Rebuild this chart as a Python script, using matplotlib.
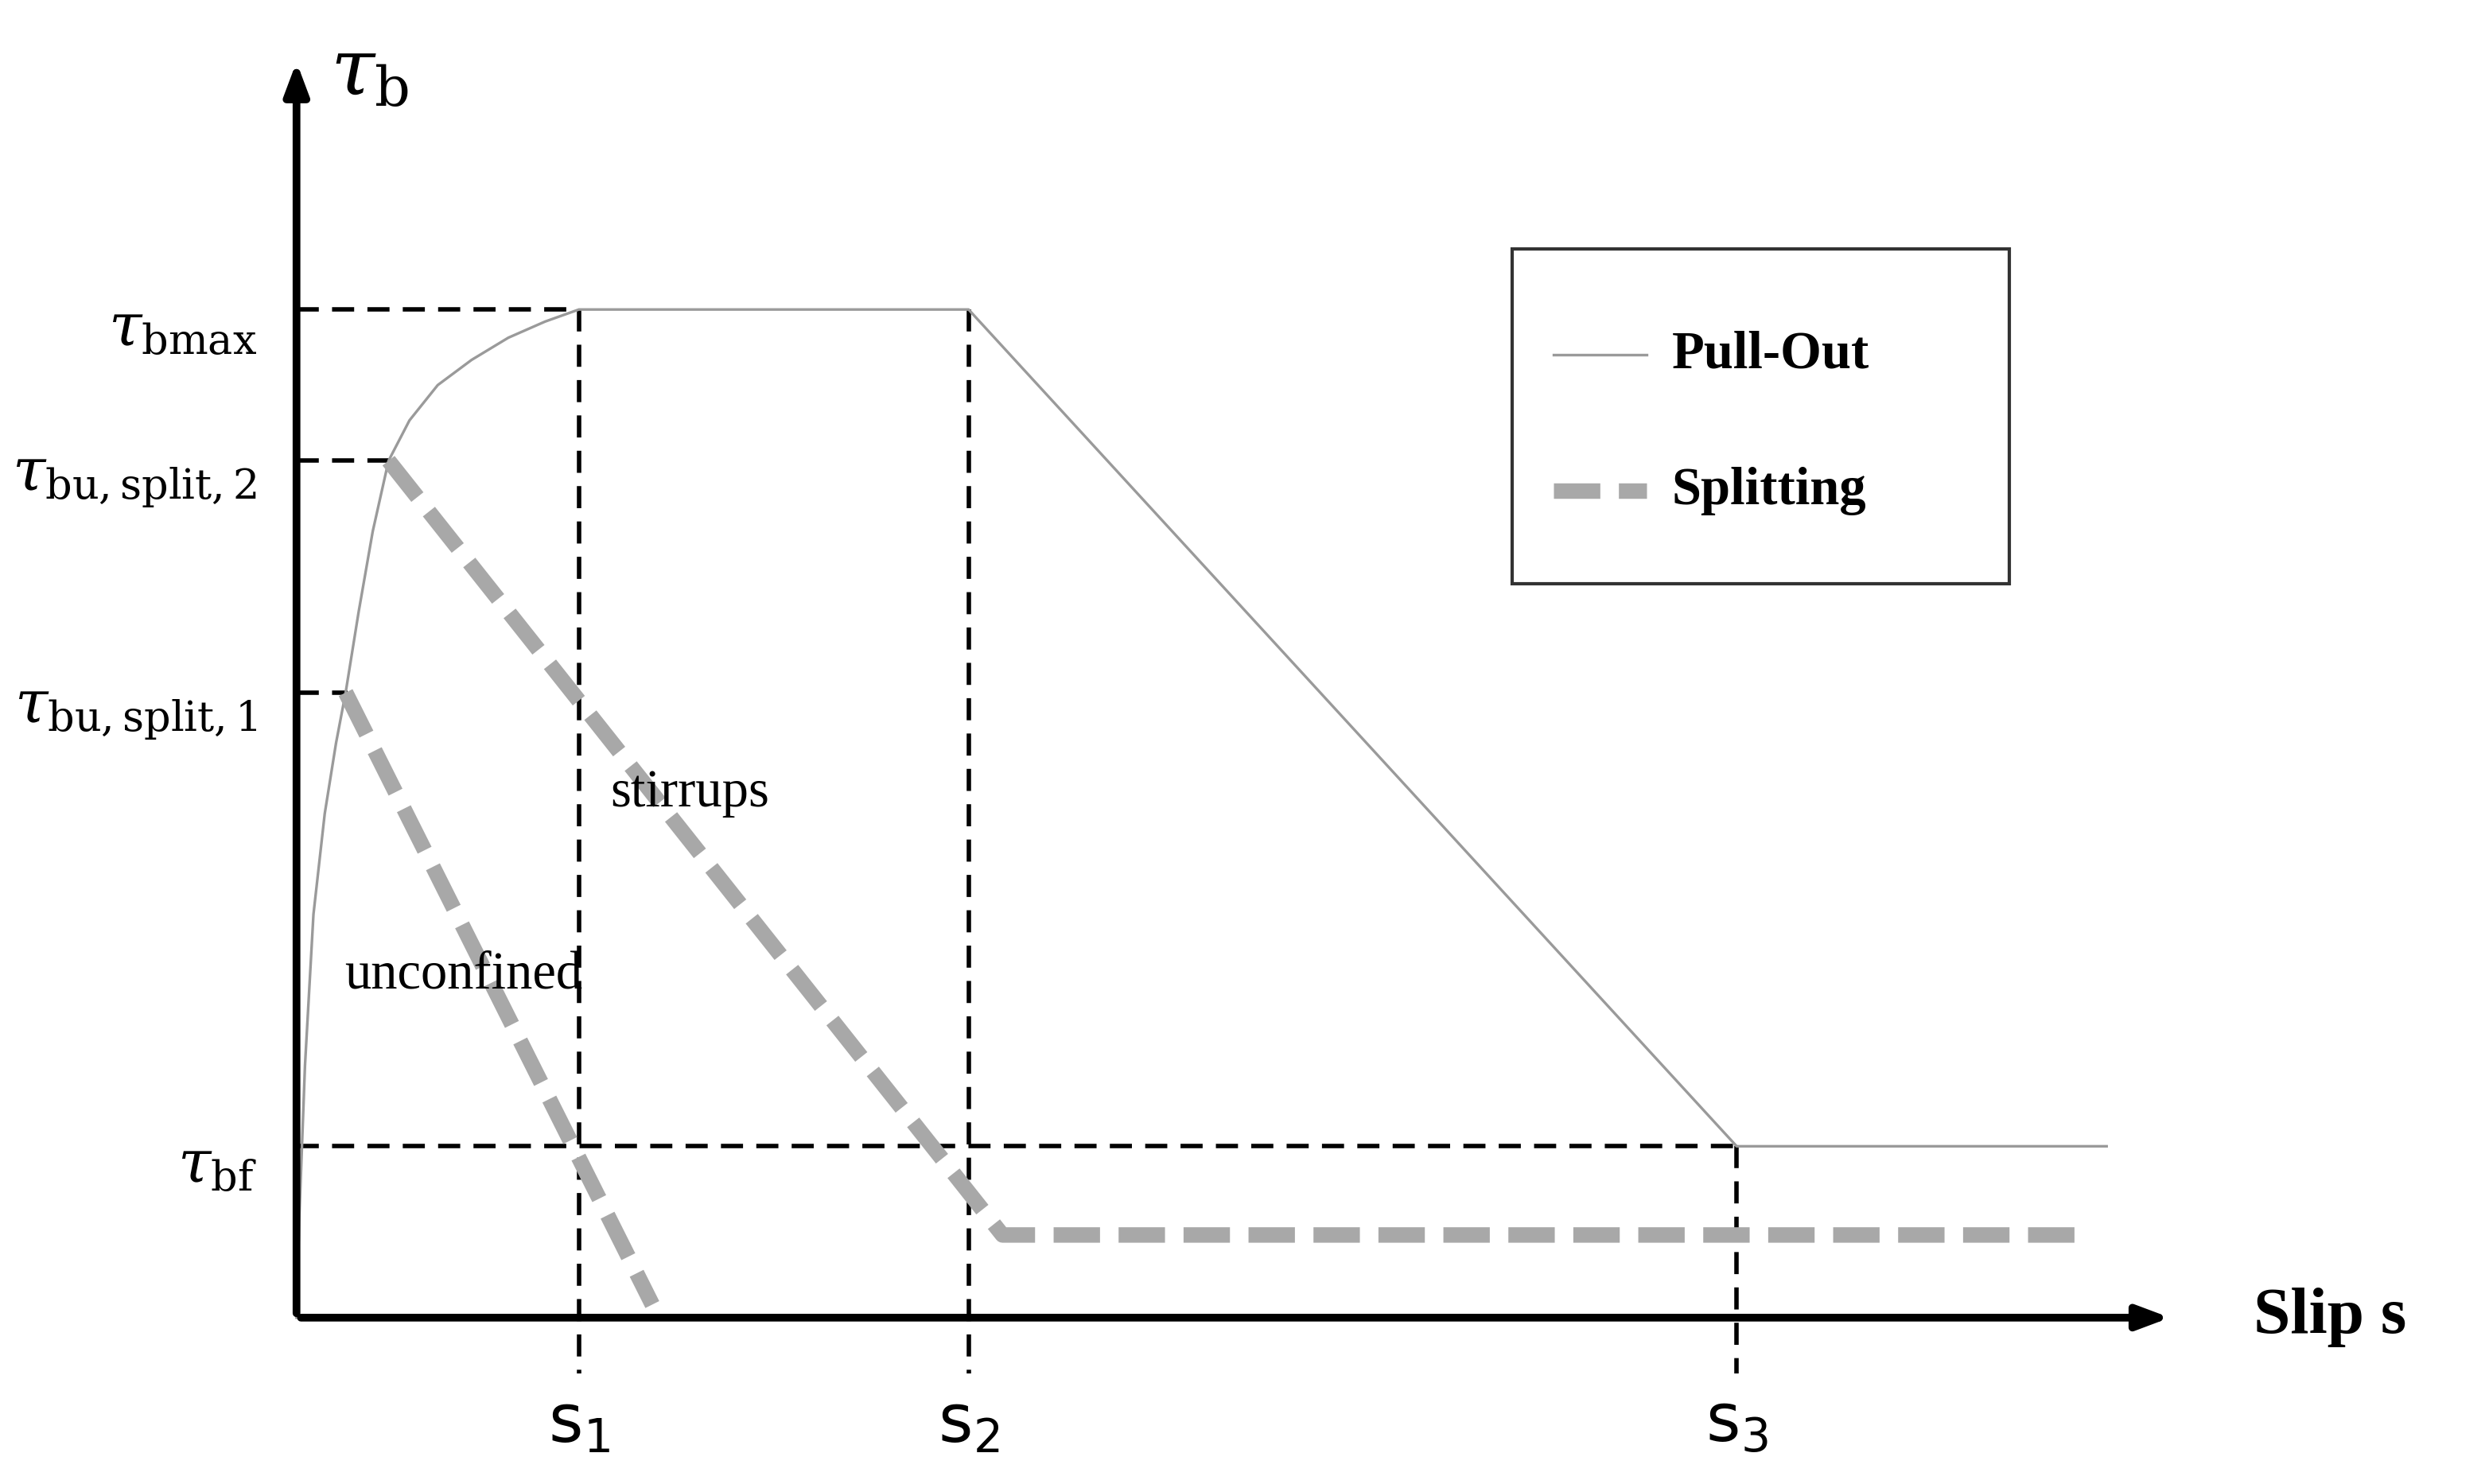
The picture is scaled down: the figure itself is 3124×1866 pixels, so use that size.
import matplotlib
matplotlib.use("Agg")
import matplotlib.pyplot as plt
from matplotlib.patches import Rectangle

plt.rcParams["mathtext.fontset"] = "dejavuserif"

# key slips (normalised) and bond stresses (normalised to tau_bmax)
s1, s2, s3 = 1.0, 2.38, 5.1
t_max, t_split2, t_split1, t_bf, t_res = 1.0, 0.85, 0.62, 0.17, 0.082

# pull-out curve
po_s = [0, 0.01, 0.03, 0.06, 0.10, 0.14, 0.174, 0.22, 0.27, 0.326, 0.40, 0.5, 0.62, 0.75, 0.88, 1.0, 2.38, 5.1, 6.41]
po_t = [0, 0.10, 0.25, 0.40, 0.50, 0.57, 0.62, 0.70, 0.78, 0.85, 0.89, 0.925, 0.95, 0.972, 0.988, 1.0, 1.0, 0.17, 0.17]
# splitting branches
unc_s = [0.174, 1.26]
unc_t = [0.62, 0.013]
stir_s = [0.326, 2.5, 6.3]
stir_t = [0.85, 0.082, 0.082]

serif = "Liberation Serif"
fig = plt.figure(figsize=(15.62, 9.33), dpi=200)
ax = fig.add_axes([0, 0, 1, 1])
ax.set_xlim(-1.05, 7.75)
ax.set_ylim(-0.165, 1.307)
ax.axis("off")

ax.annotate("", xy=(6.65, 0), xytext=(0, 0),
            arrowprops=dict(arrowstyle="-|>,head_length=1.2,head_width=0.45", lw=3.5, color="black"))
ax.annotate("", xy=(0, 1.25), xytext=(0, 0),
            arrowprops=dict(arrowstyle="-|>,head_length=1.2,head_width=0.45", lw=3.5, color="black"))

dash = dict(color="black", lw=2, ls=(0, (5, 3)))
ax.plot([0, s1], [t_max, t_max], **dash)
ax.plot([0, 0.33], [t_split2, t_split2], **dash)
ax.plot([0, 0.18], [t_split1, t_split1], **dash)
ax.plot([0, s3], [t_bf, t_bf], **dash)
for sv, top in [(s1, t_max), (s2, t_max), (s3, t_bf)]:
    ax.plot([sv, sv], [top, -0.055], **dash)

ax.plot(po_s, po_t, color="#9a9a9a", lw=1.2)
sp = dict(color="#a8a8a8", lw=7, ls=(0, (3, 1.2)), solid_capstyle="butt")
ax.plot(unc_s, unc_t, **sp)
ax.plot(stir_s, stir_t, **sp)

ax.text(0.12, 1.235, r"$\tau_\mathrm{b}$", fontsize=36, va="center", ha="left")
for y, lab in [(t_max, r"$\tau_\mathrm{bmax}$"), (t_split2, r"$\tau_\mathrm{bu,split,2}$"),
               (t_split1, r"$\tau_\mathrm{bu,split,1}$"), (t_bf, r"$\tau_\mathrm{bf}$")]:
    ax.text(-0.14, y - 0.02, lab, fontsize=27, ha="right", va="center")
for sv, lab in [(s1, r"$\mathsf{s_1}$"), (s2, r"$\mathsf{s_2}$"), (s3, r"$\mathsf{s_3}$")]:
    ax.text(sv, -0.105, lab, fontsize=30, ha="center", va="center")
ax.text(6.93, 0, "Slip s", fontsize=30, fontweight="bold", family=serif, ha="left", va="center")
ax.text(1.11, 0.52, "stirrups", fontsize=24, family=serif, ha="left", va="center")
ax.text(0.17, 0.34, "unconfined", fontsize=24, family=serif, ha="left", va="center")

ax.add_patch(Rectangle((4.305, 0.728), 1.76, 0.332, fill=False, lw=1.5, edgecolor="#333333"))
ax.plot([4.45, 4.78], [0.955, 0.955], color="#9a9a9a", lw=1.2)
ax.text(4.87, 0.955, "Pull-Out", fontsize=24, fontweight="bold", family=serif, va="center")
ax.plot([4.45, 4.78], [0.82, 0.82], **sp)
ax.text(4.87, 0.82, "Splitting", fontsize=24, fontweight="bold", family=serif, va="center")

fig.savefig("out.png", dpi=200, facecolor="white")
